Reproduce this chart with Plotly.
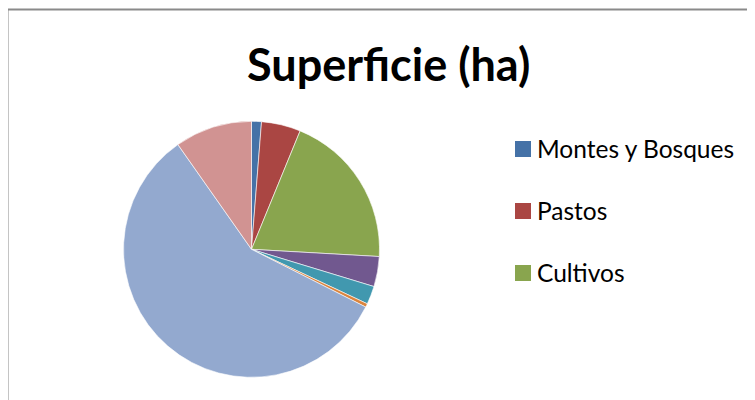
import plotly.graph_objects as go

title = "Superficie (ha)"
labels = ["Montes y Bosques", "Pastos", "Cultivos", "Frutales", "Viñedos",
          "Olivar", "Improductivo", "Otras superficies"]
values = [1.25, 4.95, 19.7, 3.8, 2.3, 0.45, 57.8, 9.75]
colors = ["#4572A7", "#AA4643", "#89A54E", "#71588F", "#4198AF",
          "#DB843D", "#93A9CF", "#D19392"]
legend_shown = 3  # only the first entries fit in the legend box

W, H = 755, 400
off = 8  # page body margin
cx, cy, r = 251.5 - off, 249.3 - off, 128

fig = go.Figure(go.Pie(
    labels=labels, values=values, sort=False, direction="clockwise",
    rotation=0, marker=dict(colors=colors, line=dict(color="white", width=0.6)),
    textinfo="none", hoverinfo="label+value+percent", showlegend=False,
    domain=dict(x=[(cx - r) / W, (cx + r) / W], y=[(H - cy - r) / H, (H - cy + r) / H]),
))

font_fam = "Lato, 'Open Sans', sans-serif"
shapes = [dict(type="rect", xref="paper", yref="paper",
               x0=(7.5 - off) / W, x1=1.05, y0=-0.05, y1=1 - (9.5 - off) / H,
               line=dict(color="#8a8a8a", width=2), fillcolor="rgba(0,0,0,0)")]
annotations = [dict(text="<b>" + title + "</b>", xref="paper", yref="paper",
                    x=(389 - off) / W, y=1 - (64 - off) / H, xanchor="center", yanchor="middle",
                    showarrow=False, font=dict(family=font_fam, size=45, color="black"))]
for i in range(legend_shown):
    yc = 149 + i * 62 - off
    shapes.append(dict(type="rect", xref="paper", yref="paper",
                       x0=(515 - off) / W, x1=(531 - off) / W,
                       y0=1 - (yc + 8) / H, y1=1 - (yc - 8) / H,
                       fillcolor=colors[i], line=dict(width=0)))
    annotations.append(dict(text=labels[i], xref="paper", yref="paper",
                            x=(535 - off) / W, y=1 - (yc - 1) / H, xanchor="left", yanchor="middle",
                            showarrow=False, font=dict(family=font_fam, size=24.5, color="black")))

fig.update_layout(width=W, height=H, margin=dict(l=0, r=0, t=0, b=0),
                  paper_bgcolor="white", plot_bgcolor="white",
                  shapes=shapes, annotations=annotations)
fig.write_html("out.html")
